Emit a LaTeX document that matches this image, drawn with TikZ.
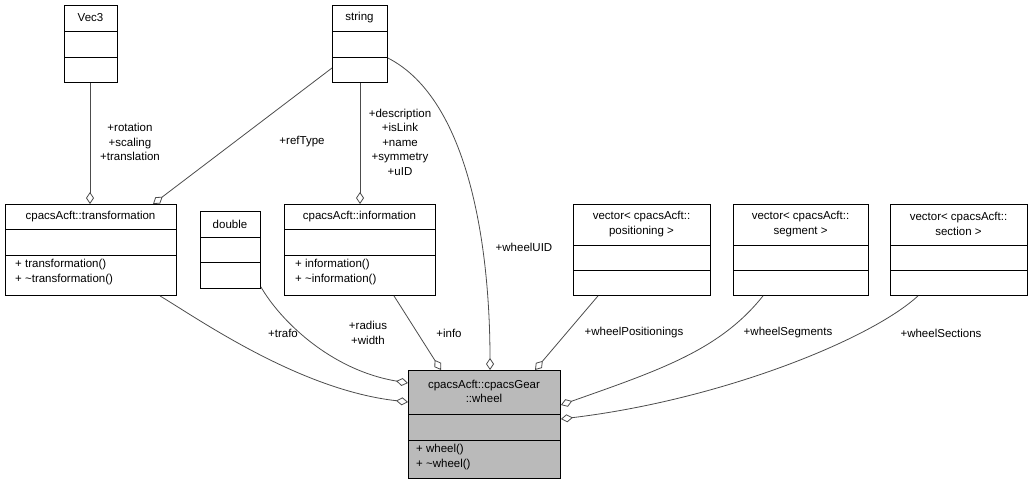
\documentclass[tikz,border=0pt]{standalone}
\usepackage{fontspec}
\setmainfont{Liberation Sans}
\usetikzlibrary{arrows.meta,calc}
\begin{document}
\begin{tikzpicture}[x=1pt,y=-1pt,
  box/.style={draw=black,line width=0.9pt,fill=white,inner sep=0,anchor=north west},
  lbl/.style={font=\fontsize{11.5}{14.5}\selectfont,inner sep=0,align=center},
  agg/.style={draw=black!70,line width=0.8pt,{Diamond[open,length=12pt,width=8pt]}-}]
\useasboundingbox (0,0) rectangle (1033,485);
\newcommand\ubox[8]{% name, x1,y1,x2,y2, r1, r2, fill
  \node[box,fill=#8,minimum width=#4-#2,minimum height=#5-#3] (#1) at (#2,#3) {};
  \draw[line width=0.9pt] (#2,#6) -- (#4,#6) (#2,#7) -- (#4,#7);}
\ubox{vec}{64}{5}{117}{82}{31}{57}{white}
\node[lbl] (tvec) at (90.5,18) {Vec3};
\ubox{str}{332}{5}{387}{82}{31}{57}{white}
\node[lbl] (tstr) at (359.5,18) {string};
\ubox{tra}{5}{204}{176}{295}{229}{255}{white}
\node[lbl] (ttra) at (90.5,216.5) {cpacsAcft::transformation};
\node[lbl,align=left,anchor=north west] (mtra) at (15,259) {+ transformation()\\+ \char`\~transformation()};
\ubox{dbl}{200}{211}{260}{288}{237}{262}{white}
\node[lbl] (tdbl) at (230,224) {double};
\ubox{inf}{284}{204}{435}{295}{229}{255}{white}
\node[lbl] (tinf) at (359.5,216.5) {cpacsAcft::information};
\node[lbl,align=left,anchor=north west] (minf) at (295,259) {+ information()\\+ \char`\~information()};
\ubox{pos}{573}{204}{710}{295}{245}{270}{white}
\node[lbl] (tpos) at (641.5,224) {vector< cpacsAcft::\\positioning >};
\ubox{seg}{733}{204}{868}{295}{245}{270}{white}
\node[lbl] (tseg) at (800.5,224) {vector< cpacsAcft::\\segment >};
\ubox{sec}{890}{204}{1027}{295}{245}{270}{white}
\node[lbl] (tsec) at (958.5,224) {vector< cpacsAcft::\\section >};
\ubox{whl}{408}{370}{560}{478}{414}{440}{black!27}
\node[lbl] (twhl) at (484,391.5) {cpacsAcft::cpacsGear\\::wheel};
\node[lbl,align=left,anchor=north west] (mwhl) at (416,444) {+ wheel()\\+ \char`\~wheel()};
% connectors
\draw[agg] ($(tra.north west)+(85,0)$) -- ($(vec.south west)+(26,0)$);
\draw[agg] ($(tra.north west)+(148,0)$) -- ($(str.north west)+(0,63)$);
\draw[agg] ($(inf.north west)+(76,0)$) -- ($(str.south west)+(28,0)$);
\draw[agg] ($(whl.north west)+(82,0)$) .. controls (490,250) and (470,100) .. ($(str.north east)+(0,53)$);
\draw[agg] ($(whl.north west)+(0,13)$) .. controls (330,370) and (280,320) .. ($(dbl.south east)+(0,-2)$);
\draw[agg] ($(whl.north west)+(0,32)$) .. controls (300,390) and (200,320) .. ($(tra.south west)+(155,0)$);
\draw[agg] ($(whl.north west)+(33,0)$) -- ($(inf.south west)+(110,0)$);
\draw[agg] ($(whl.north west)+(127,0)$) -- ($(pos.south west)+(25,0)$);
\draw[agg] ($(whl.north east)+(0,35)$) .. controls (660,370) and (720,350) .. ($(seg.south west)+(30,0)$);
\draw[agg] ($(whl.north east)+(0,49)$) .. controls (720,400) and (870,340) .. ($(sec.south west)+(28,0)$);
% labels
\node[lbl] (l1) at (130,142) {+rotation\\+scaling\\+translation};
\node[lbl] (l2) at (302,142) {+refType};
\node[lbl] (l3) at (400,142) {+description\\+isLink\\+name\\+symmetry\\+uID};
\node[lbl] (l4) at (524,247) {+wheelUID};
\node[lbl] (l5) at (283,333) {+trafo};
\node[lbl] (l6) at (368,333) {+radius\\+width};
\node[lbl] (l7) at (449,333) {+info};
\node[lbl] (l8) at (634,333) {+wheelPositionings};
\node[lbl] (l9) at (788,333) {+wheelSegments};
\node[lbl] (l10) at (941,333) {+wheelSections};
\end{tikzpicture}
\end{document}
